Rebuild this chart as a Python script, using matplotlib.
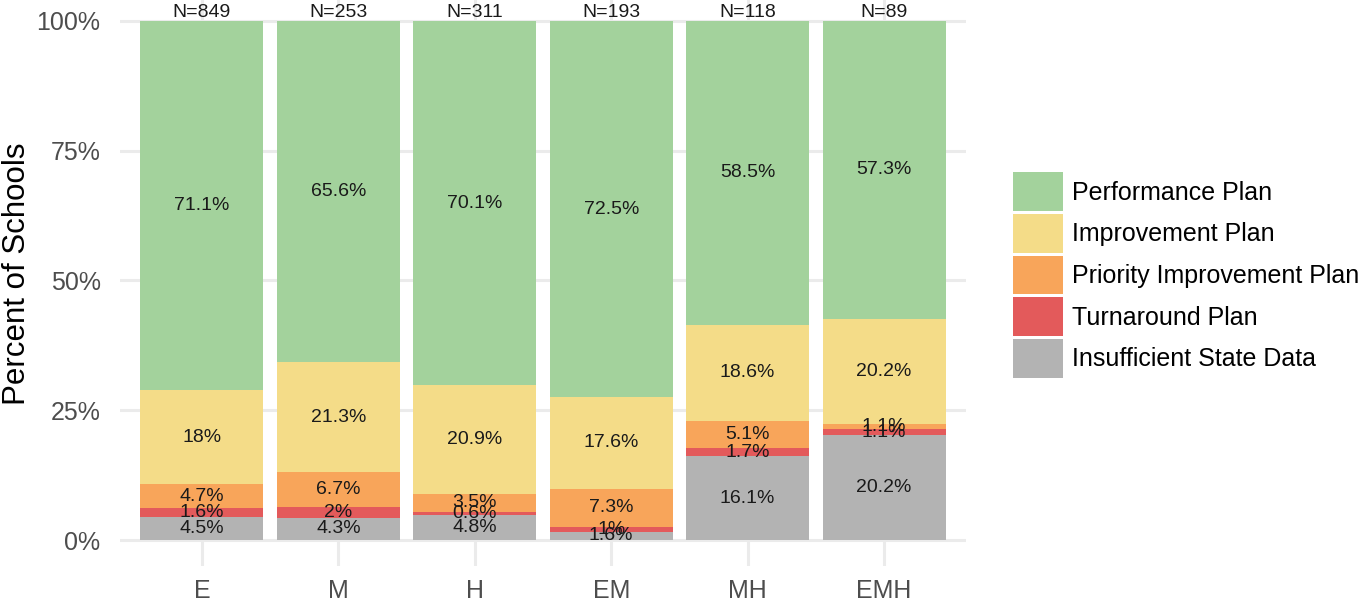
import numpy as np
import matplotlib
matplotlib.use("Agg")
import matplotlib.pyplot as plt
from matplotlib.patches import Patch

plt.rcParams['font.family'] = ['Liberation Sans', 'DejaVu Sans']

# data (percent of schools by plan type, bottom to top of each bar)
levels = ['E', 'M', 'H', 'EM', 'MH', 'EMH']
n_schools = [849, 253, 311, 193, 118, 89]
insufficient = [4.5, 4.3, 4.8, 1.6, 16.1, 20.2]
turnaround = [1.6, 2, 0.6, 1, 1.7, 1.1]
priority = [4.7, 6.7, 3.5, 7.3, 5.1, 1.1]
improvement = [18, 21.3, 20.9, 17.6, 18.6, 20.2]
performance = [71.1, 65.6, 70.1, 72.5, 58.5, 57.3]

series = [
    ('Insufficient State Data', insufficient, '#B3B3B3'),
    ('Turnaround Plan', turnaround, '#E35A5B'),
    ('Priority Improvement Plan', priority, '#F8A55A'),
    ('Improvement Plan', improvement, '#F4DC88'),
    ('Performance Plan', performance, '#A3D29C'),
]

W, H = 1361, 603
fig = plt.figure(figsize=(W / 100, H / 100), dpi=100)
# panel spans past the top edge (ggplot expansion), like the original crop
ax = fig.add_axes([120 / W, 37 / H, (966 - 120) / W, (608 - 37) / H])

x = np.arange(len(levels))
totals = np.sum([s[1] for s in series], axis=0)
bottom = np.zeros(len(levels))
for name, vals, color in series:
    frac = np.array(vals) / totals
    ax.bar(x, frac, width=0.9, bottom=bottom, color=color, zorder=2)
    for xi, b, f, v in zip(x, bottom, frac, vals):
        ax.text(xi, b + f / 2, f'{v:g}%', ha='center', va='center',
                fontsize=14, color='#1a1a1a', zorder=3)
    bottom += frac

for xi, n in zip(x, n_schools):
    ax.text(xi, 1.0, f'N={n}', ha='center', va='bottom', fontsize=14,
            color='#1a1a1a', zorder=3)

ax.set_xlim(-0.6, len(levels) - 0.4)
ax.set_ylim(-0.05, 1.05)
ax.set_xticks(x)
ax.set_xticklabels(levels)
ax.set_yticks([0, 0.25, 0.5, 0.75, 1.0])
ax.set_yticklabels(['0%', '25%', '50%', '75%', '100%'])
ax.tick_params(axis='both', length=0, labelsize=18, labelcolor='#4D4D4D')
ax.tick_params(axis='x', pad=9)
ax.tick_params(axis='y', pad=14)
ax.grid(True, color='#EBEBEB', linewidth=2.2, zorder=0)
ax.set_axisbelow(True)
for sp in ax.spines.values():
    sp.set_visible(False)

fig.text(17 / W, 1 - 274 / H, 'Percent of Schools', rotation=90,
         ha='center', va='center', fontsize=22.5, color='black')

handles = [Patch(facecolor=c, edgecolor='none', label=n) for n, v, c in series[::-1]]
fig.legend(handles=handles, loc='center left', bbox_to_anchor=(1013 / W, 1 - 275 / H),
           frameon=False, fontsize=18, handlelength=2.0, handleheight=2.0,
           labelspacing=0.12, handletextpad=0.35, borderpad=0, borderaxespad=0)

fig.savefig('out.png', dpi=100)
